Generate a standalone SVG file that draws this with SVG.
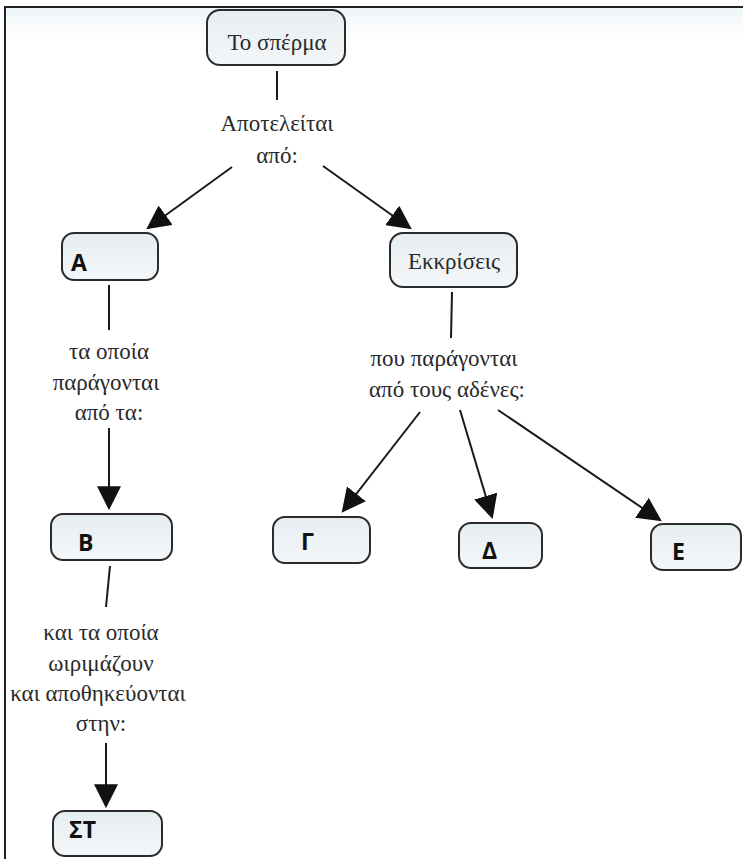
<svg xmlns="http://www.w3.org/2000/svg" width="743" height="859" viewBox="0 0 743 859">
<style>
.box{fill:url(#boxg);stroke:#2b2b2b;stroke-width:2}
.lbl{font-family:"Liberation Serif","Times New Roman",serif;font-size:23px;fill:#2a2a2a;text-anchor:middle}
.key{font-family:"Open Sans","Noto Sans","Liberation Sans",sans-serif;font-size:23px;font-weight:bold;fill:#111}
.ln{stroke:#1a1a1a;stroke-width:2;fill:none}
.ar{stroke:#1a1a1a;stroke-width:2;fill:none;marker-end:url(#ah)}
</style>
<defs>
<linearGradient id="boxg" x1="0" y1="0" x2="0" y2="1">
<stop offset="0" stop-color="#e6edf1"/>
<stop offset="1" stop-color="#f4f7f9"/>
</linearGradient>
<linearGradient id="topg" x1="0" y1="0" x2="0" y2="1">
<stop offset="0" stop-color="#eef5f8"/>
<stop offset="1" stop-color="#ffffff"/>
</linearGradient>
<marker id="ah" markerUnits="userSpaceOnUse" markerWidth="24" markerHeight="24" viewBox="0 0 22 22" refX="20" refY="11" orient="auto">
<path d="M0,0 L22,11 L0,22 Z" fill="#111"/>
</marker>
</defs>
<rect x="0" y="0" width="743" height="859" fill="#fff"/>
<rect x="5" y="8" width="738" height="28" fill="url(#topg)"/>
<path d="M4,7 H743 M5,7 V859" stroke="#222" stroke-width="2" fill="none"/>

<g id="connectors">
<line class="ln" x1="277" y1="71" x2="277" y2="100"/>
<line class="ar" x1="232" y1="167" x2="148" y2="228"/>
<line class="ar" x1="323" y1="166" x2="410" y2="228"/>
<line class="ln" x1="109" y1="285" x2="109" y2="330"/>
<line class="ar" x1="109" y1="428" x2="109" y2="508"/>
<line class="ln" x1="110" y1="566" x2="106" y2="607"/>
<line class="ar" x1="106" y1="743" x2="106" y2="806"/>
<line class="ln" x1="452" y1="292" x2="451" y2="338"/>
<line class="ar" x1="420" y1="412" x2="343" y2="511"/>
<line class="ar" x1="460" y1="410" x2="492" y2="517"/>
<line class="ar" x1="498" y1="410" x2="660" y2="520"/>
<text class="lbl" x="277" y="131">Αποτελείται</text>
<text class="lbl" x="277" y="163">από:</text>
<text class="lbl" x="109" y="359">τα οποία</text>
<text class="lbl" x="106" y="390">παράγονται</text>
<text class="lbl" x="109" y="420">από τα:</text>
<text class="lbl" x="101" y="640">και τα οποία</text>
<text class="lbl" x="101" y="671">ωιριμάζουν</text>
<text class="lbl" x="98" y="701">και αποθηκεύονται</text>
<text class="lbl" x="101" y="731">στην:</text>
<text class="lbl" x="444" y="366">που παράγονται</text>
<text class="lbl" x="447" y="397">από τους αδένες:</text>
</g>

<g id="node-sperma">
<rect class="box" x="207" y="10" width="138" height="55" rx="13"/>
<text class="lbl" x="277" y="50">Το σπέρμα</text>
</g>
<g id="node-ekkriseis">
<rect class="box" x="390" y="233" width="127" height="54" rx="13"/>
<text class="lbl" x="454" y="269">Εκκρίσεις</text>
</g>
<g id="node-A">
<rect class="box" x="62" y="233" width="96" height="47" rx="12"/>
<text class="key" x="71" y="271">Α</text>
</g>
<g id="node-B">
<rect class="box" x="51" y="514" width="121" height="46" rx="12"/>
<text class="key" x="78" y="551">Β</text>
</g>
<g id="node-ST">
<rect class="box" x="53" y="811" width="109" height="45" rx="12"/>
<text class="key" x="69" y="838">ΣΤ</text>
</g>
<g id="node-G">
<rect class="box" x="273" y="517" width="97" height="46" rx="12"/>
<text class="key" x="301" y="550">Γ</text>
</g>
<g id="node-D">
<rect class="box" x="459" y="523" width="83" height="45" rx="12"/>
<text class="key" x="482" y="559">Δ</text>
</g>
<g id="node-E">
<rect class="box" x="651" y="524" width="90" height="46" rx="12"/>
<text class="key" x="672" y="560">Ε</text>
</g>
</svg>
